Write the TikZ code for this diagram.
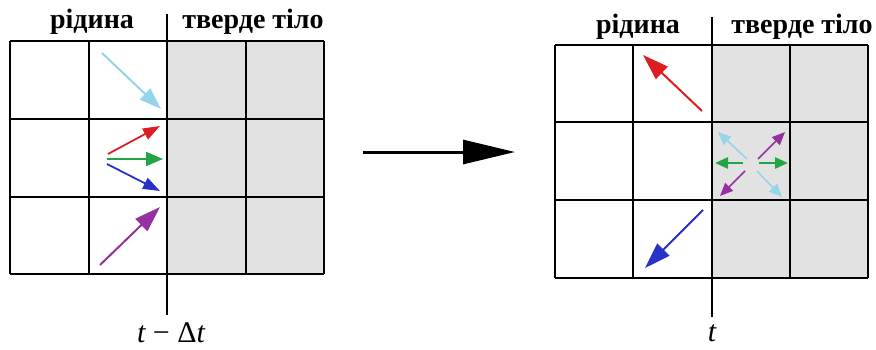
\documentclass[tikz,border=0pt]{standalone}
\usepackage{fontspec}
\setmainfont{Liberation Serif}
\usetikzlibrary{arrows.meta}
\definecolor{cellgrey}{RGB}{226,226,226}
\definecolor{lblue}{RGB}{150,212,232}
\definecolor{ared}{RGB}{220,30,35}
\definecolor{agreen}{RGB}{35,165,70}
\definecolor{ablue}{RGB}{40,50,200}
\definecolor{apurple}{RGB}{150,50,160}
\tikzset{
  gridline/.style={line width=2pt, draw=black},
  label/.style={font=\bfseries\fontsize{28}{32}\selectfont, inner sep=0pt},
  tlabel/.style={font=\fontsize{30}{34}\selectfont, inner sep=0pt},
  bigv/.style={-{Triangle[length=22pt,width=15pt]}, line width=2pt},
  bigvr/.style={-{Triangle[length=26pt,width=17pt]}, line width=2pt},
  smallv/.style={-{Triangle[length=17pt,width=12pt]}, line width=1.8pt},
  tinyv/.style={-{Triangle[length=13pt,width=11pt]}, line width=1.8pt},
}
\begin{document}
\begin{tikzpicture}[x=1pt,y=-1pt]
\useasboundingbox (0,0) rectangle (876,349);
% ---------- left grid ----------
\fill[cellgrey] (167,41) rectangle (324,274);
\foreach \x in {10,89,167,246,324} \draw[gridline] (\x,41) -- (\x,274);
\foreach \y in {41,119,197,274} \draw[gridline] (10,\y) -- (324,\y);
\coordinate (lt) at (167,14);
\coordinate (lb) at (167,315);
\draw[gridline] (lt) -- (lb);
\node[label] (lliq) at (92,22) {рідина};
\node[label] (lsol) at (253,22) {тверде тіло};
\node[tlabel] (ltime) at (171,333) {\itshape t\upshape\ − Δ\itshape t};
% arrows left
\coordinate (a1s) at (102,53);  \coordinate (a1e) at (161,109);
\coordinate (a2s) at (108,154); \coordinate (a2e) at (160,126);
\coordinate (a3s) at (107,159); \coordinate (a3e) at (163,159);
\coordinate (a4s) at (107,164); \coordinate (a4e) at (160,191);
\coordinate (a5s) at (100,265); \coordinate (a5e) at (160,207);
\draw[bigv, lblue] (a1s) -- (a1e);
\draw[smallv, ared] (a2s) -- (a2e);
\draw[-{Triangle[length=17pt,width=14pt]}, line width=2pt, agreen] (a3s) -- (a3e);
\draw[smallv, ablue] (a4s) -- (a4e);
\draw[bigvr, apurple] (a5s) -- (a5e);
% ---------- big arrow ----------
\coordinate (bs) at (363,152);
\coordinate (be) at (515,152);
\draw[line width=3pt, -{Triangle[length=52pt,width=24pt]}] (bs) -- (be);
% ---------- right grid ----------
\fill[cellgrey] (712,45) rectangle (868,278);
\foreach \x in {555,633,712,790,868} \draw[gridline] (\x,45) -- (\x,278);
\foreach \y in {45,122,200,278} \draw[gridline] (555,\y) -- (868,\y);
\coordinate (rt) at (712,17);
\coordinate (rb) at (712,317);
\draw[gridline] (rt) -- (rb);
\node[label] (rliq) at (638,27) {рідина};
\node[label] (rsol) at (802,27) {тверде тіло};
\node[tlabel] (rtime) at (712,333) {\itshape t};
% arrows right
\coordinate (b1s) at (702,111); \coordinate (b1e) at (643,55);
\coordinate (b2s) at (703,210); \coordinate (b2e) at (645,268);
\draw[bigvr, ared] (b1s) -- (b1e);
\draw[bigvr, ablue] (b2s) -- (b2e);
\coordinate (c1s) at (747,159); \coordinate (c1e) at (718,132);
\coordinate (c2s) at (758,159); \coordinate (c2e) at (785,132);
\coordinate (c3s) at (743,163); \coordinate (c3e) at (715,163);
\coordinate (c4s) at (759,163); \coordinate (c4e) at (788,163);
\coordinate (c5s) at (745,171); \coordinate (c5e) at (720,196);
\coordinate (c6s) at (757,171); \coordinate (c6e) at (782,197);
\draw[tinyv, line width=1.6pt, lblue] (c1s) -- (c1e);
\draw[tinyv, line width=1.6pt, apurple] (c2s) -- (c2e);
\draw[tinyv, line width=2.6pt, agreen] (c3s) -- (c3e);
\draw[tinyv, line width=2.6pt, agreen] (c4s) -- (c4e);
\draw[tinyv, line width=1.6pt, apurple] (c5s) -- (c5e);
\draw[tinyv, line width=1.6pt, lblue] (c6s) -- (c6e);
\end{tikzpicture}
\end{document}
